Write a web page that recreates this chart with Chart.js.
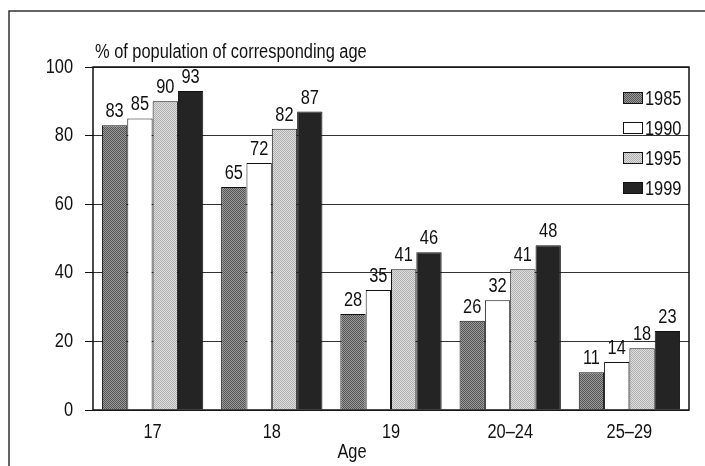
<!DOCTYPE html>
<html>
<head>
<meta charset="utf-8">
<script src="https://cdn.jsdelivr.net/npm/chart.js@4/dist/chart.umd.min.js"></script>
<style>
  html, body { margin: 0; padding: 0; background: #fff; }
  #wrap { position: relative; width: 705px; height: 466px; }
</style>
</head>
<body>
<div id="wrap"><canvas id="c"></canvas></div>
<script>
// values
const ages = ['17', '18', '19', '20\u201324', '25\u201329'];
const years = ['1985', '1990', '1995', '1999'];
const v1985 = [83, 65, 28, 26, 11];
const v1990 = [85, 72, 35, 32, 14];
const v1995 = [90, 82, 41, 41, 18];
const v1999 = [93, 87, 46, 48, 23];
const yTicks = [0, 20, 40, 60, 80, 100];

const FONT = '"Liberation Sans", Arial, sans-serif';
const FSTR = '20px ' + FONT;
const SX = 0.82; // squeeze text horizontally, the original uses a condensed face
const INK = '#111';

// small checker textures to mimic the print screens
function checker(a, b) {
  const p = document.createElement('canvas');
  p.width = 2; p.height = 2;
  const g = p.getContext('2d');
  g.fillStyle = a; g.fillRect(0, 0, 2, 2);
  g.fillStyle = b; g.fillRect(0, 0, 1, 1); g.fillRect(1, 1, 1, 1);
  return g.createPattern(p, 'repeat');
}
const fills = [checker('#9a9a9a', '#555'), '#ffffff', checker('#dedede', '#b0b0b0'), '#242424'];

function txt(ctx, s, x, y, align, base) {
  ctx.save();
  ctx.translate(x, y);
  ctx.scale(SX, 1);
  ctx.textAlign = align;
  ctx.textBaseline = base;
  ctx.fillText(s, 0, 0);
  ctx.restore();
}

const frame = {
  id: 'frame',
  beforeDraw(chart) {
    const ctx = chart.ctx;
    ctx.save();
    ctx.strokeStyle = '#333';
    ctx.lineWidth = 1.5;
    ctx.beginPath();
    ctx.moveTo(705, 11); ctx.lineTo(9, 11); ctx.lineTo(9, 466);
    ctx.stroke();
    ctx.restore();
  },
  afterDraw(chart) {
    const ctx = chart.ctx, a = chart.chartArea;
    const xs = chart.scales.x, ys = chart.scales.y;
    ctx.save();
    ctx.strokeStyle = '#111';
    ctx.lineWidth = 1.5;
    ctx.strokeRect(a.left, a.top, a.right - a.left, a.bottom - a.top);

    ctx.fillStyle = INK;
    ctx.font = FSTR;
    // tick labels, positioned by the chart scales
    ys.ticks.forEach(t => txt(ctx, String(t.value), a.left - 20, ys.getPixelForValue(t.value), 'right', 'middle'));
    xs.ticks.forEach((t, i) => txt(ctx, xs.getLabelForValue(t.value), xs.getPixelForTick(i), 438, 'center', 'alphabetic'));
    // value labels
    chart.data.datasets.forEach((ds, i) => {
      chart.getDatasetMeta(i).data.forEach((bar, j) => {
        txt(ctx, String(ds.data[j]), bar.x, bar.y - 8, 'center', 'alphabetic');
      });
    });
    // axis titles
    txt(ctx, '% of population of corresponding age', a.left + 2, 58, 'left', 'alphabetic');
    txt(ctx, 'Age', 352, 458, 'center', 'alphabetic');
    // legend inside plot
    chart.data.datasets.forEach((ds, i) => {
      const y = 98 + i * 30;
      const x = a.right - 66;
      ctx.fillStyle = ds.backgroundColor;
      ctx.fillRect(x, y - 6, 20, 12);
      ctx.lineWidth = 1;
      ctx.strokeStyle = '#111';
      ctx.strokeRect(x + 0.5, y - 5.5, 19, 11);
      ctx.fillStyle = INK;
      txt(ctx, ds.label, x + 22, y + 7, 'left', 'alphabetic');
    });
    ctx.restore();
  }
};

new Chart(document.getElementById('c'), {
  type: 'bar',
  data: {
    labels: ages,
    datasets: [v1985, v1990, v1995, v1999].map((d, i) => ({
      label: years[i],
      data: d,
      backgroundColor: fills[i],
      borderColor: '#111',
      borderWidth: 1,
      borderSkipped: 'bottom',
      categoryPercentage: 0.85,
      barPercentage: 1.0
    }))
  },
  options: {
    responsive: true,
    maintainAspectRatio: false,
    animation: false,
    layout: { padding: { top: 67, right: 16, bottom: 0, left: 0 } },
    plugins: { legend: { display: false }, tooltip: { enabled: false } },
    scales: {
      x: {
        grid: { display: false },
        border: { display: false },
        ticks: { color: 'rgba(0,0,0,0)', font: { family: FONT, size: 18 }, padding: 10 },
        afterFit(s) { s.height = 56; }
      },
      y: {
        min: 0, max: 100,
        afterBuildTicks(s) { s.ticks = yTicks.map(v => ({ value: v })); },
        afterFit(s) { s.width = 93; },
        border: { display: false },
        grid: {
          color: '#333',
          borderDash: [1, 2],
          lineWidth: 1,
          tickLength: 8,
          tickColor: '#111',
          tickBorderDash: []
        },
        ticks: { color: 'rgba(0,0,0,0)', font: { family: FONT, size: 18 }, padding: 12 }
      }
    }
  },
  plugins: [frame]
});
</script>
</body>
</html>
